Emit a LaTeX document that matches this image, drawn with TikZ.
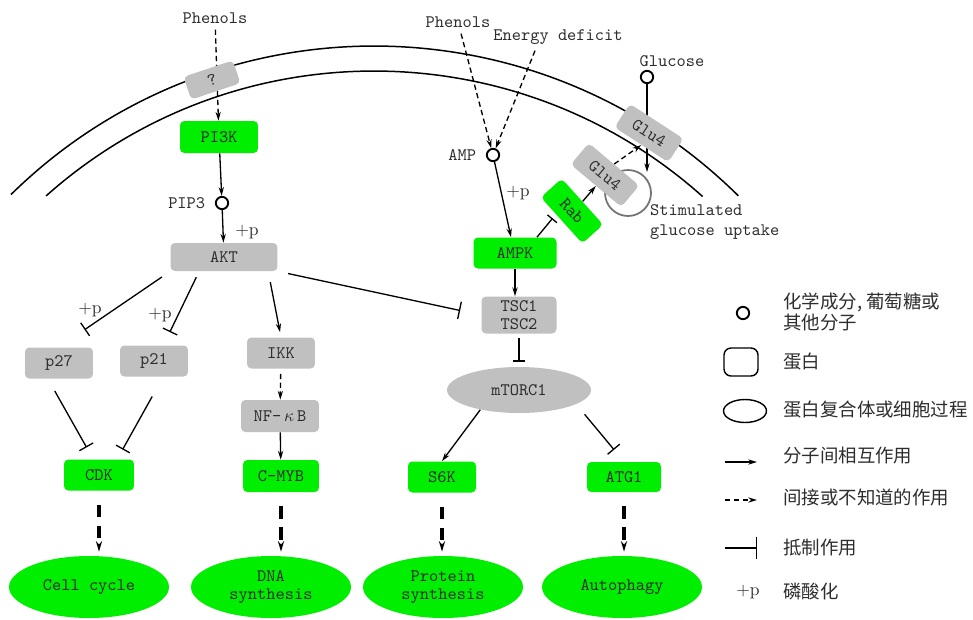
\documentclass[tikz,border=0pt]{standalone}
\usepackage{fontspec}
\newfontfamily\cjk{Noto Sans CJK SC}
\usetikzlibrary{arrows.meta,positioning,shapes.geometric,backgrounds}
\definecolor{protgray}{RGB}{192,192,192}
\definecolor{actgreen}{RGB}{0,238,0}
\definecolor{txtgray}{RGB}{45,45,45}

\begin{document}
\begin{tikzpicture}[x=0.02cm, y=-0.02cm, font=\ttfamily, text=txtgray,
  prot/.style={fill=protgray, rounded corners=2.5pt, minimum width=1.36cm, minimum height=0.62cm, inner sep=1pt},
  actv/.style={prot, fill=actgreen},
  proc/.style={ellipse, fill=actgreen, minimum width=3.2cm, minimum height=1.24cm, align=center, inner sep=0pt},
  mol/.style={circle, draw=black, line width=1.1pt, minimum size=7pt, inner sep=0pt},
  plusp/.style={font=\rmfamily},
  act/.style={-{Stealth[length=5pt,width=3pt]}, line width=0.75pt},
  indir/.style={act, dash pattern=on 3pt off 2pt},
  inhib/.style={-{Bar[width=#1]}, line width=0.75pt},
  inhib/.default=9pt,
  effect/.style={-{Stealth[length=6pt,width=3.5pt]}, line width=1.8pt, dash pattern=on 7pt off 5pt},
  membrane/.style={line width=0.85pt}]
\useasboundingbox (0,0) rectangle (973,619);

% cell membrane
\draw[membrane] (374,564) ++(-134.5:518) arc[start angle=-134.5, end angle=-45.3, radius=518];
\draw[membrane] (374,564) ++(-131.7:493) arc[start angle=-131.7, end angle=-48.2, radius=493];
\node[circle, draw=black!55, line width=1pt, minimum size=0.92cm] (uptake) at (628,193) {};

% AKT branch
\node (phen1) at (215,18) {Phenols};
\node[prot, rotate=18.5, minimum width=1.04cm, minimum height=0.48cm] (qbox) at (212,80) {?};
\node[actv, minimum width=1.56cm, minimum height=0.64cm] (pi3k) at (219,137) {PI3K};
\node[mol] (pip3) at (222,203) {};
\node[left=2pt of pip3] (pip3lab) {PIP3};
\node[plusp] (plus1) at (247,232) {+p};
\node[prot, minimum width=2.14cm, minimum height=0.56cm] (akt) at (224,257) {AKT};
\node[plusp] (plus2) at (90,310) {+p};
\node[plusp] (plus3) at (160,315) {+p};
\node[prot] (p27) at (59,363) {p27};
\node[prot] (p21) at (154,361) {p21};
\node[prot] (ikk) at (281,353) {IKK};
\node[prot, minimum width=1.56cm, minimum height=0.64cm] (nfkb) at (280,416) {NF-\,$\kappa$\,B};
\node[actv, minimum width=1.4cm] (cdk) at (99,475) {CDK};
\node[actv, minimum width=1.52cm, minimum height=0.64cm] (cmyb) at (281,476) {C-MYB};
\node[proc] (cycle) at (89,587) {Cell cycle};
\node[proc] (dna) at (271,587) {DNA\\[-2pt]synthesis};

% AMPK branch
\node (phen2) at (458,22) {Phenols};
\node (edef) at (558,37) {Energy deficit};
\node[mol] (amp) at (493,155) {};
\node[left=2pt of amp] (amplab) {AMP};
\node[plusp] (plus4) at (518,193) {+p};
\node[actv, minimum width=1.66cm] (ampk) at (515,253) {AMPK};
\node[actv, rotate=-48, minimum width=1.24cm, minimum height=0.56cm] (rab) at (572,211) {Rab};
\node[prot, rotate=-40, minimum width=1.32cm, minimum height=0.56cm] (g4in) at (605,175) {Glu4};
\node[prot, rotate=-33, minimum width=1.28cm, minimum height=0.56cm] (g4out) at (649,133) {Glu4};
\node[mol] (glc) at (647,77) {};
\node (glclab) at (672,61) {Glucose};
\coordinate (gin) at (647,172);
\node[anchor=west, align=left] (upt) at (644,222) {Stimulated\\[-1pt]glucose uptake};
\node[prot, align=center, minimum width=1.5cm, minimum height=0.74cm] (tsc) at (519,315) {TSC1\\[-2pt]TSC2};
\node[ellipse, fill=protgray, minimum width=2.88cm, minimum height=0.92cm, inner sep=0pt] (mtor) at (519,390) {mTORC1};
\node[actv] (s6k) at (442,477) {S6K};
\node[actv, minimum width=1.48cm, minimum height=0.6cm] (atg1) at (624,477) {ATG1};
\node[proc] (prot) at (443,587) {Protein\\[-2pt]synthesis};
\node[proc] (auto) at (622,587) {Autophagy};

% connectors
\begin{scope}[on background layer]
\draw[indir] (phen1) -- (pi3k);
\draw[act] (glc) -- (gin);
\end{scope}
\draw[act] (pi3k) -- (pip3);
\draw[act] (pip3) -- (akt);
\draw[inhib, shorten <=0.2cm, shorten >=0.62cm] (akt.south west) -- (p27.north);
\draw[inhib, shorten <=0.13cm, shorten >=0.29cm] (akt.-150) -- (p21.59);
\draw[act, shorten <=0.22cm, shorten >=0.1cm] (akt.-18) -- (ikk.north);
\draw[inhib=10pt, shorten <=0.21cm, shorten >=0.43cm] (akt.south east) -- (tsc.west);
\draw[indir, shorten <=0.1cm] (ikk) -- (nfkb);
\draw[act] (nfkb) -- (cmyb);
\draw[inhib, shorten <=0.28cm, shorten >=0.27cm] (p27.-125) -- (cdk.110);
\draw[inhib, shorten <=0.45cm, shorten >=0.22cm] (p21.-60) -- (cdk.41);
\draw[effect, shorten <=0.28cm, shorten >=0.08cm] (cdk.south) -- (cdk.south |- cycle.north);
\draw[effect, shorten <=0.28cm, shorten >=0.08cm] (cmyb.south) -- (cmyb.south |- dna.north);

\draw[indir] (phen2) -- (amp);
\draw[indir] ([xshift=-0.46cm]edef.south) -- (amp);
\draw[act] (amp) -- ([xshift=-0.08cm]ampk.north);
\draw[inhib=7pt, shorten >=0.1cm] ([xshift=0.44cm]ampk.north) -- (rab.-120);
\draw[act] (rab.north) -- (g4in.south);
\draw[indir] (g4in.north) -- (g4out.south);
\draw[act] (ampk.south) -- (ampk.south |- tsc.north);
\draw[inhib=7pt, shorten <=0.08cm, shorten >=0.1cm] (tsc.south) -- (tsc.south |- mtor.north);
\draw[act] (mtor.-153) -- (s6k.north);
\draw[inhib, shorten <=0.26cm, shorten >=0.31cm] (mtor.-14) -- (atg1.north);
\draw[effect, shorten <=0.28cm, shorten >=0.08cm] (s6k.south) -- (s6k.south |- prot.north);
\draw[effect, shorten <=0.28cm, shorten >=0.08cm] (atg1.south) -- (atg1.south |- auto.north);

% legend
\node[mol] (lmol) at (743,313) {};
\node[draw=black, line width=0.8pt, rounded corners=4pt, minimum width=0.68cm, minimum height=0.56cm] (lprot) at (741,362) {};
\node[draw=black, line width=0.8pt, ellipse, minimum width=0.86cm, minimum height=0.46cm] (lcplx) at (745,411) {};
\coordinate (la1) at (725,462); \coordinate (la2) at (757,462);
\coordinate (lb1) at (725,500); \coordinate (lb2) at (757,500);
\coordinate (lc1) at (725,548); \coordinate (lc2) at (757,548);
\draw[act] (la1) -- (la2);
\draw[indir] (lb1) -- (lb2);
\draw[inhib=13pt] (lc1) -- (lc2);
\node[plusp] (lplus) at (748,592) {+p};
\begin{scope}[every node/.style={anchor=west, align=left, font=\cjk\fontsize{10.5}{11.5}\selectfont}]
\node (t1) at (777,312) {化学成分, 葡萄糖或\\其他分子};
\node (t2) at (777,362) {蛋白};
\node (t3) at (777,410) {蛋白复合体或细胞过程};
\node (t4) at (777,456) {分子间相互作用};
\node (t5) at (777,497) {间接或不知道的作用};
\node (t6) at (777,548) {抵制作用};
\node (t7) at (777,592) {磷酸化};
\end{scope}
\end{tikzpicture}
\end{document}
